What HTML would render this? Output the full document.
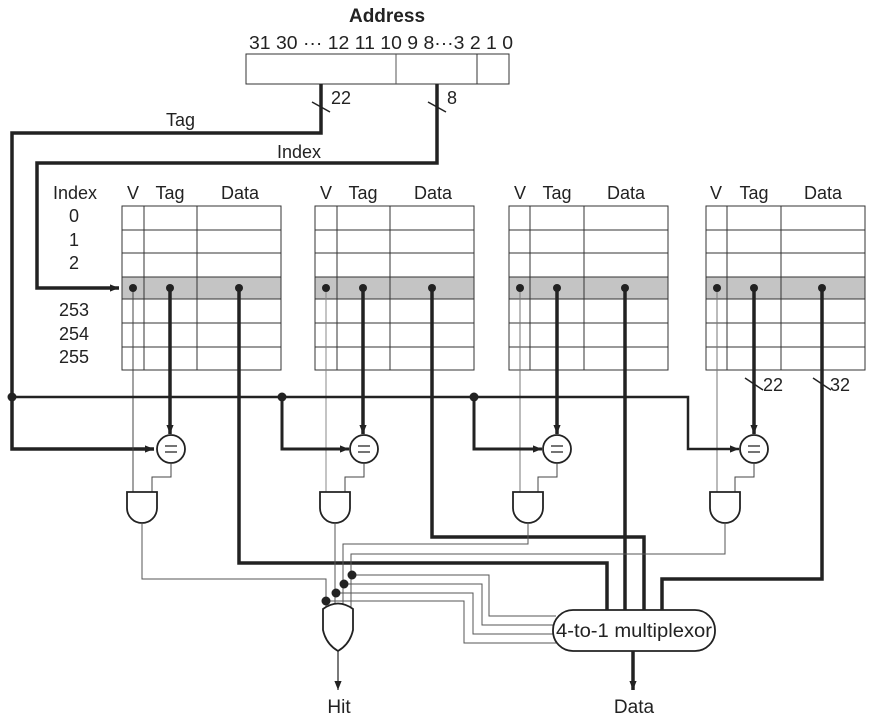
<!DOCTYPE html>
<html><head><meta charset="utf-8"><style>
html,body{margin:0;padding:0;background:#fff;}
svg{display:block;}
text{font-family:"Liberation Sans",Arial,sans-serif;fill:#222;}
</style></head><body>
<svg width="876" height="728" viewBox="0 0 876 728" xmlns="http://www.w3.org/2000/svg">
<defs>
<marker id="ah2" viewBox="0 0 10 10" refX="10" refY="5" markerWidth="9" markerHeight="9" orient="auto" markerUnits="userSpaceOnUse"><path d="M0,1 L10,5 L0,9 z" fill="#222"/></marker>
</defs>
<!-- Address -->
<text x="387" y="22" font-size="19" font-weight="bold" text-anchor="middle">Address</text>
<text x="249" y="49" font-size="18" textLength="264" lengthAdjust="spacingAndGlyphs">31 30 ··· 12 11 10 9 8···3 2 1 0</text>
<rect x="246" y="54" width="263" height="30" fill="#fff" stroke="#333" stroke-width="1"/>
<line x1="396" y1="54" x2="396" y2="84" stroke="#555"/>
<line x1="477" y1="54" x2="477" y2="84" stroke="#333"/>
<g fill="none" stroke="#222" stroke-width="3.5">
<polyline points="321,84 321,133 12,133 12,449 154,449" marker-end="url(#ah2)"/>
<polyline points="437,84 437,163 37,163 37,288 119,288" marker-end="url(#ah2)"/>
</g>
<g stroke="#222" stroke-width="1.5">
<line x1="312" y1="102" x2="330" y2="112"/><line x1="428" y1="102" x2="446" y2="112"/>
</g>
<text x="331" y="104" font-size="18">22</text>
<text x="447" y="104" font-size="18">8</text>
<text x="166" y="126" font-size="18">Tag</text>
<text x="277" y="158" font-size="18">Index</text>
<g font-size="18" text-anchor="middle">
<text x="75" y="199">Index</text>
<text x="74" y="222">0</text><text x="74" y="246">1</text><text x="74" y="269">2</text>
<text x="74" y="316">253</text><text x="74" y="340">254</text><text x="74" y="363">255</text>
</g>
<g stroke="#333" stroke-width="1" font-size="18" text-anchor="middle">
<rect x="122" y="277" width="159" height="22" fill="#c4c4c4" stroke="none"/>
<rect x="122" y="206" width="159" height="164" fill="none"/>
<path d="M144,206V370M197,206V370M122,230H281M122,253H281M122,277H281M122,299H281M122,323H281M122,347H281" fill="none"/>
<text x="133" y="199" stroke="none">V</text><text x="170" y="199" stroke="none">Tag</text><text x="240" y="199" stroke="none">Data</text>
<rect x="315" y="277" width="159" height="22" fill="#c4c4c4" stroke="none"/>
<rect x="315" y="206" width="159" height="164" fill="none"/>
<path d="M337,206V370M390,206V370M315,230H474M315,253H474M315,277H474M315,299H474M315,323H474M315,347H474" fill="none"/>
<text x="326" y="199" stroke="none">V</text><text x="363" y="199" stroke="none">Tag</text><text x="433" y="199" stroke="none">Data</text>
<rect x="509" y="277" width="159" height="22" fill="#c4c4c4" stroke="none"/>
<rect x="509" y="206" width="159" height="164" fill="none"/>
<path d="M530,206V370M584,206V370M509,230H668M509,253H668M509,277H668M509,299H668M509,323H668M509,347H668" fill="none"/>
<text x="520" y="199" stroke="none">V</text><text x="557" y="199" stroke="none">Tag</text><text x="626" y="199" stroke="none">Data</text>
<rect x="706" y="277" width="159" height="22" fill="#c4c4c4" stroke="none"/>
<rect x="706" y="206" width="159" height="164" fill="none"/>
<path d="M727,206V370M781,206V370M706,230H865M706,253H865M706,277H865M706,299H865M706,323H865M706,347H865" fill="none"/>
<text x="716" y="199" stroke="none">V</text><text x="754" y="199" stroke="none">Tag</text><text x="823" y="199" stroke="none">Data</text>
</g>
<g stroke="#444" stroke-width="1" fill="none">
<line x1="133" y1="288" x2="133" y2="492"/>
<line x1="326" y1="288" x2="326" y2="492" stroke="#888"/>
<line x1="520" y1="288" x2="520" y2="492" stroke="#777"/>
<line x1="717" y1="288" x2="717" y2="492" stroke="#777"/>
</g>
<polyline points="12,397 688,397 688,449 739,449" fill="none" stroke="#222" stroke-width="2.5" marker-end="url(#ah2)"/>
<polyline points="282,397 282,449 349,449" fill="none" stroke="#222" stroke-width="3" marker-end="url(#ah2)"/>
<polyline points="474,397 474,449 542,449" fill="none" stroke="#222" stroke-width="3" marker-end="url(#ah2)"/>
<g fill="#222"><circle cx="12" cy="397" r="4.5"/><circle cx="282" cy="397" r="4.5"/><circle cx="474" cy="397" r="4.5"/></g>
<g stroke="#222" stroke-width="3.5" fill="none">
<line x1="170" y1="288" x2="170" y2="434" marker-end="url(#ah2)"/>
<line x1="363" y1="288" x2="363" y2="434" marker-end="url(#ah2)"/>
<line x1="557" y1="288" x2="557" y2="434" marker-end="url(#ah2)"/>
<line x1="754" y1="288" x2="754" y2="434" marker-end="url(#ah2)"/>
</g>
<g stroke="#222" stroke-width="1.5"><line x1="745" y1="378" x2="763" y2="390"/><line x1="813" y1="378" x2="831" y2="390"/></g>
<text x="763" y="391" font-size="18">22</text><text x="830" y="391" font-size="18">32</text>
<g stroke="#222" stroke-width="3.5" fill="none">
<polyline points="239,288 239,563 607,563 607,610"/>
<polyline points="432,288 432,537 644,537 644,610"/>
<polyline points="625,288 625,610"/>
<polyline points="822,288 822,579 662,579 662,610"/>
</g>
<g fill="#222">
<circle cx="133" cy="288" r="4"/><circle cx="170" cy="288" r="4"/><circle cx="239" cy="288" r="4"/>
<circle cx="326" cy="288" r="4"/><circle cx="363" cy="288" r="4"/><circle cx="432" cy="288" r="4"/>
<circle cx="520" cy="288" r="4"/><circle cx="557" cy="288" r="4"/><circle cx="625" cy="288" r="4"/>
<circle cx="717" cy="288" r="4"/><circle cx="754" cy="288" r="4"/><circle cx="822" cy="288" r="4"/>
</g>
<g stroke="#222" stroke-width="1.8" fill="#fff">
<circle cx="171" cy="449" r="14"/><circle cx="364" cy="449" r="14"/><circle cx="557" cy="449" r="14"/><circle cx="754" cy="449" r="14"/>
</g>
<g stroke="#222" stroke-width="1.3">
<path d="M165,446H177M165,452H177"/><path d="M358,446H370M358,452H370"/><path d="M551,446H563M551,452H563"/><path d="M748,446H760M748,452H760"/>
</g>
<g stroke="#444" stroke-width="1" fill="none">
<polyline points="171,463 171,477 152,477 152,492"/>
<polyline points="364,463 364,477 345,477 345,492"/>
<polyline points="557,463 557,477 538,477 538,492"/>
<polyline points="754,463 754,477 735,477 735,492"/>
</g>
<g stroke="#222" stroke-width="1.8" fill="#fff">
<path d="M127,492H157V508A15,15 0 0 1 127,508Z"/>
<path d="M320,492H350V508A15,15 0 0 1 320,508Z"/>
<path d="M513,492H543V508A15,15 0 0 1 513,508Z"/>
<path d="M710,492H740V508A15,15 0 0 1 710,508Z"/>
</g>
<g stroke="#555" stroke-width="1" fill="none">
<polyline points="142,523 142,579 326,579 326,612"/>
<polyline points="335,523 335,612"/>
<polyline points="528,523 528,544 343,544 343,612"/>
<polyline points="725,523 725,554 351,554 351,612"/>
<polyline points="352,575 489,575 489,616 556,616"/>
<polyline points="344,584 482,584 482,625 553,625"/>
<polyline points="336,593 473,593 473,634 553,634"/>
<polyline points="326,601 464,601 464,643 556,643"/>
</g>
<g fill="#222"><circle cx="326" cy="601" r="4.5"/><circle cx="336" cy="593" r="4.5"/><circle cx="344" cy="584" r="4.5"/><circle cx="352" cy="575" r="4.5"/></g>
<path d="M323,609Q338,598 353,609V630Q350,644 338,651Q326,644 323,630Z" fill="#fff" stroke="#222" stroke-width="1.8"/>
<line x1="338" y1="651" x2="338" y2="690" stroke="#222" stroke-width="1.2" marker-end="url(#ah2)"/>
<text x="339" y="713" font-size="19" text-anchor="middle">Hit</text>
<rect x="553" y="610" width="162" height="41" rx="20" ry="20" fill="#fff" stroke="#222" stroke-width="1.8"/>
<text x="634" y="637" font-size="19" text-anchor="middle" textLength="156" lengthAdjust="spacingAndGlyphs">4-to-1 multiplexor</text>
<line x1="633" y1="651" x2="633" y2="690" stroke="#222" stroke-width="3.5" marker-end="url(#ah2)"/>
<text x="634" y="713" font-size="19" text-anchor="middle">Data</text>
</svg>
</body></html>
